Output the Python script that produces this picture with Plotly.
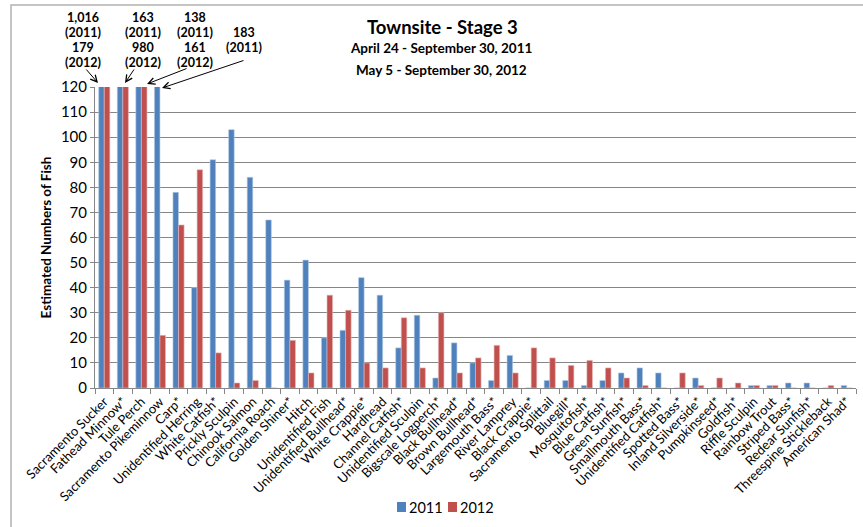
import plotly.graph_objects as go

categories = [
    "Sacramento Sucker", "Fathead Minnow*", "Tule Perch", "Sacramento Pikeminnow",
    "Carp*", "Unidentified Herring", "White Catfish*", "Prickly Sculpin",
    "Chinook Salmon", "California Roach", "Golden Shiner*", "Hitch",
    "Unidentified Fish", "Unidentified Bullhead*", "White Crappie*", "Hardhead",
    "Channel Catfish*", "Unidentified Sculpin", "Bigscale Logperch*", "Black Bullhead*",
    "Brown Bullhead*", "Largemouth Bass*", "River Lamprey", "Black Crappie*",
    "Sacramento Splittail", "Bluegill*", "Mosquitofish*", "Blue Catfish*",
    "Green Sunfish*", "Smallmouth Bass*", "Unidentified Catfish*", "Spotted Bass*",
    "Inland Silverside*", "Pumpkinseed*", "Goldfish*", "Riffle Sculpin",
    "Rainbow Trout", "Striped Bass*", "Redear Sunfish*", "Threespine Stickleback",
    "American Shad*",
]

values_2011 = [1016, 163, 138, 183, 78, 40, 91, 103, 84, 67, 43, 51,
               20, 23, 44, 37, 16, 29, 4, 18, 10, 3, 13, 0,
               3, 3, 1, 3, 6, 8, 6, 0, 4, 0, 0, 1,
               1, 2, 2, 0, 1]
values_2012 = [179, 980, 161, 21, 65, 87, 14, 2, 3, 0, 19, 6,
               37, 31, 10, 8, 28, 8, 30, 6, 12, 17, 6, 16,
               12, 9, 11, 8, 4, 1, 0, 6, 1, 4, 2, 1,
               1, 0, 0, 1, 0]

series_names = ["2011", "2012"]
y_ticks = list(range(0, 121, 10))

# off-scale values written above the clipped bars
offscale_labels = [
    ["1,016", "(2011)", "179", "(2012)"],
    ["163", "(2011)", "980", "(2012)"],
    ["138", "(2011)", "161", "(2012)"],
    ["183", "(2011)"],
]

# layout geometry (pixels)
W, H = 863, 527
L, R, T, B = 95, 7, 87, 139
PW, PH = W - L - R, H - T - B


def px(x):
    return (x - L) / PW


def py(y):
    return (H - B - y) / PH


BLUE = "#4F81BD"
RED = "#C0504D"
FONT = "Lato"

fig = go.Figure()
fig.add_trace(go.Bar(name=series_names[0], x=categories, y=values_2011, showlegend=False,
                     marker=dict(color=BLUE, line=dict(color="#B9CDE5", width=0.6))))
fig.add_trace(go.Bar(name=series_names[1], x=categories, y=values_2012, showlegend=False,
                     marker=dict(color=RED, line=dict(color="#E6B9B8", width=0.6))))

annotations = []
shapes = []


def text(t, x, y, size, anchor="center"):
    annotations.append(dict(text=t, x=px(x), y=py(y), xref="paper", yref="paper",
                            showarrow=False, font=dict(family=FONT, size=size, color="black"),
                            xanchor=anchor, yanchor="middle"))


# title
text("<b>Townsite - Stage 3</b>", 442, 27, 18.5)
text("<b>April 24 - September 30, 2011</b>", 441, 48, 13.5)
text("<b>May 5 - September 30, 2012</b>", 441, 70, 13.5)

# off-scale value labels, one line each
label_x = [83, 143, 195, 244]
line_y4 = [17, 33, 48, 62]
line_y2 = [33, 48]
for lines, x in zip(offscale_labels, label_x):
    ys = line_y4 if len(lines) == 4 else line_y2
    for t, y in zip(lines, ys):
        text("<b>" + t + "</b>", x, y, 12.5)

arrows = [((85, 68), (98, 83)), ((135, 68), (125, 83)),
          ((188, 68), (147, 84)), ((245, 60), (162, 88))]
for (tx, ty), (hx, hy) in arrows:
    annotations.append(dict(text="", x=px(hx), y=py(hy), xref="paper", yref="paper",
                            ax=tx - hx, ay=ty - hy, showarrow=True,
                            arrowhead=5, arrowsize=1.3, arrowwidth=1,
                            arrowcolor="black", standoff=0, startstandoff=0))

# legend (drawn as keys + labels)
legend_items = [(397, series_names[0], BLUE), (448, series_names[1], RED)]
for x0, name, col in legend_items:
    shapes.append(dict(type="rect", xref="paper", yref="paper",
                       x0=px(x0), x1=px(x0 + 9), y0=py(512), y1=py(502),
                       fillcolor=col, line=dict(width=0)))
    text(name, x0 + 10, 507, 14.5, anchor="left")

# outer chart border
shapes.append(dict(type="rect", xref="paper", yref="paper",
                   x0=px(11), y0=py(H + 10), x1=px(W + 10), y1=py(5),
                   line=dict(color="#B3B3B3", width=1.5), fillcolor="rgba(0,0,0,0)"))

fig.update_layout(
    width=W, height=H,
    margin=dict(l=L, r=R, t=T, b=B, autoexpand=False),
    paper_bgcolor="white", plot_bgcolor="white",
    barmode="group", bargap=0.4, bargroupgap=0,
    font=dict(family=FONT, color="black"),
    annotations=annotations,
    shapes=shapes,
    showlegend=False,
    xaxis=dict(type="category", tickangle=-45, tickfont=dict(family=FONT, size=13),
               showline=True, linecolor="#868686", linewidth=1,
               ticks="outside", ticklen=5, tickcolor="#868686", tickson="boundaries",
               showgrid=False),
    yaxis=dict(range=[0, 120], tickvals=y_ticks, tickfont=dict(family=FONT, size=15),
               showline=True, linecolor="#868686", linewidth=1,
               ticks="outside", ticklen=4, tickcolor="#868686",
               gridcolor="#868686", gridwidth=1,
               title=dict(text="<b>Estimated Numbers of Fish</b>",
                          font=dict(family=FONT, size=13.5), standoff=6)),
)

fig.write_html("out.html", config={"displayModeBar": False},
               post_script="document.body.style.margin='0px';")
